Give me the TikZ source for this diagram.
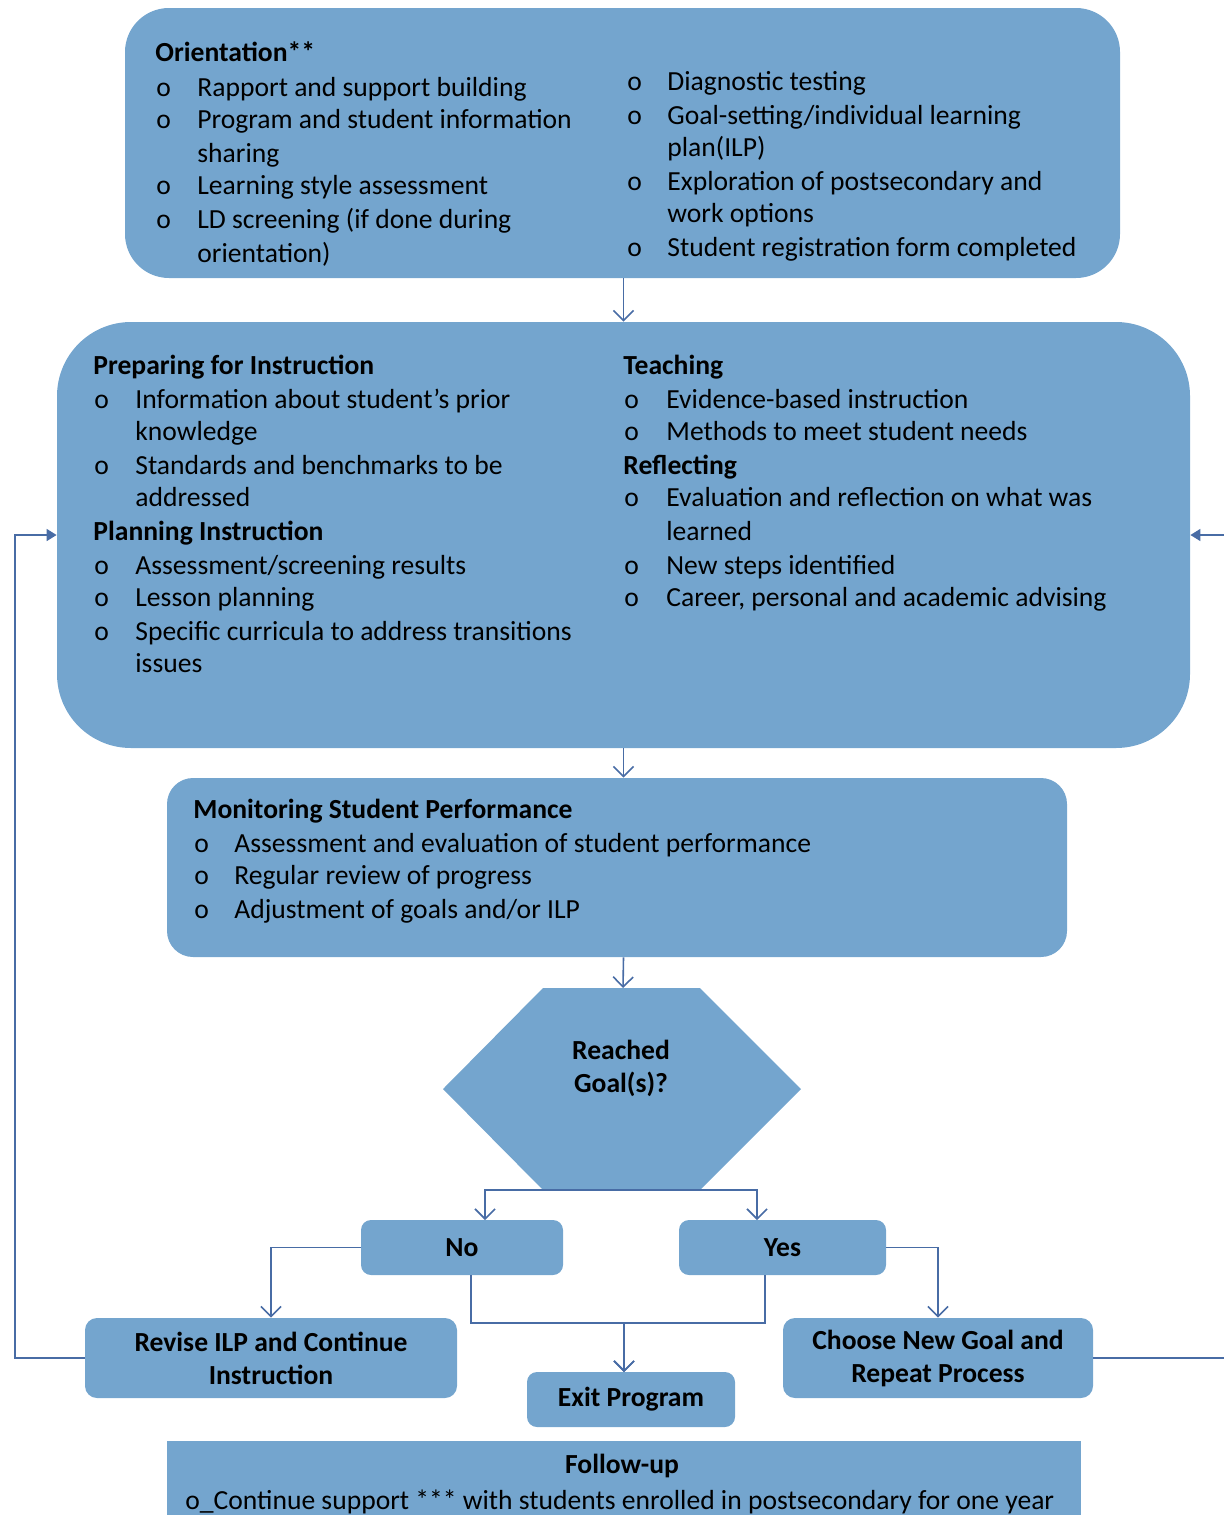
\documentclass[tikz,border=0pt]{standalone}
\usepackage{fontspec}
\setmainfont{Carlito}
\usetikzlibrary{positioning,arrows.meta,calc,fit}
\definecolor{boxblue}{RGB}{116,165,206}
\definecolor{linkblue}{RGB}{72,108,165}

\tikzset{
  box/.style={fill=boxblue, inner sep=0pt},
  txt/.style={anchor=west, inner sep=0pt, text height=0.75em, text depth=0.15em},
  head/.style={txt, font=\bfseries},
  link/.style={draw=linkblue, line width=0.8pt, -{Straight Barb[length=5pt,width=10pt]}},
  back/.style={draw=linkblue, line width=0.8pt, -{Triangle[length=5pt,width=6pt]}},
}

\begin{document}
\fontsize{13.8}{16.5}\selectfont
\begin{tikzpicture}[x=0.5pt,y=-0.5pt]
  \useasboundingbox (0,0) rectangle (1224,1515);
  \clip (0,0) rectangle (1224,1515);

  % orientation
  \node[box, rounded corners=22pt, fit={(125,8) (1120,278)}] (orient) {};
  \node[head] (orhead) at (155,53) {Orientation**};
  \foreach \y in {88,120,186,220} \node[txt] (ob\y) at (156,\y) {o};
  \foreach \y/\t in {88/{Rapport and support building},120/{Program and student information},
      154/sharing,186/{Learning style assessment},220/{LD screening (if done during},254/{orientation)}}
    \node[txt] (ot\y) at (197,\y) {\t};
  \foreach \y in {82,116,182,248} \node[txt] (rb\y) at (627,\y) {o};
  \foreach \y/\t in {82/{Diagnostic testing},116/{Goal-setting/individual learning},148/{plan(ILP)},
      182/{Exploration of postsecondary and},214/{work options},248/{Student registration form completed}}
    \node[txt] (rt\y) at (667,\y) {\t};

  % instruction cycle
  \node[box, rounded corners=37pt, fit={(57,322) (1190,748)}] (cycle) {};
  \node[head] (prephead) at (93,366) {Preparing for Instruction};
  \node[head] (planhead) at (93,532) {Planning Instruction};
  \foreach \y in {400,466,566,598,632} \node[txt] (pb\y) at (94,\y) {o};
  \foreach \y/\t in {400/{Information about student’s prior},432/knowledge,466/{Standards and benchmarks to be},
      498/addressed,566/{Assessment/screening results},598/{Lesson planning},
      632/{Specific curricula to address transitions},664/issues}
    \node[txt] (pt\y) at (135,\y) {\t};
  \node[head] (teachhead) at (623,366) {Teaching};
  \node[head] (reflhead) at (623,466) {Reflecting};
  \foreach \y in {400,432,498,566,598} \node[txt] (tb\y) at (624,\y) {o};
  \foreach \y/\t in {400/{Evidence-based instruction},432/{Methods to meet student needs},
      498/{Evaluation and reflection on what was},532/learned,566/{New steps identified},
      598/{Career, personal and academic advising}}
    \node[txt] (tt\y) at (666,\y) {\t};

  % monitoring
  \node[box, rounded corners=13pt, fit={(167,778) (1067,957)}] (monitor) {};
  \node[head] (monhead) at (193,810) {Monitoring Student Performance};
  \foreach \y/\t in {844/{Assessment and evaluation of student performance},876/{Regular review of progress},
      910/{Adjustment of goals and/or ILP}}
  {
    \node[txt] (mb\y) at (194,\y) {o};
    \node[txt] (mt\y) at (234,\y) {\t};
  }

  % decision
  \path[box] (543,988) -- (700,988) -- (801,1089) -- (700,1190) -- (543,1190) -- (443,1089) -- cycle;
  \node[font=\bfseries, align=center] (goal) at (621,1068) {Reached\\Goal(s)?};
  \coordinate (goaltop) at (623,988);
  \coordinate (goalbot) at (621,1190);

  \node[box, rounded corners=5pt, fit={(361,1220) (563,1275)}] (no) {};
  \node[font=\bfseries] at (no) {No};
  \node[box, rounded corners=5pt, fit={(679,1220) (886,1275)}] (yes) {};
  \node[font=\bfseries] at (yes) {Yes};

  \node[box, rounded corners=6pt, fit={(85,1318) (457,1398)}] (revise) {};
  \node[font=\bfseries, align=center] at (revise) {Revise ILP and Continue\\Instruction};
  \node[box, rounded corners=6pt, fit={(783,1318) (1093,1398)}] (choose) {};
  \node[font=\bfseries, align=center] at (choose) {Choose New Goal and\\Repeat Process};
  \node[box, rounded corners=5pt, fit={(527,1372) (735,1427)}] (exit) {};
  \node[font=\bfseries] at (exit) {Exit Program};

  % follow-up
  \node[box, fit={(167,1441) (1081,1530)}] (follow) {};
  \node[font=\bfseries] (fuhead) at (622,1466) {Follow-up};
  \node[txt] (futext) at (185,1501) {o\_Continue support *** with students enrolled in postsecondary for one year};

  % connectors
  \coordinate (noin) at (485,1220);
  \coordinate (yesin) at (757,1220);
  \coordinate (nofoot) at (471,1275);
  \coordinate (yesfoot) at (765,1275);
  \coordinate (exitin) at (624,1372);
  \draw[link] (orient.south -| cycle.north) -- (cycle.north);
  \draw[link] (cycle.south) -- (cycle.south |- monitor.north);
  \draw[link] (cycle.south |- monitor.south) -- (goaltop);
  \draw[link] (goalbot) -| (noin);
  \draw[link] (goalbot) -| (yesin);
  \draw[link] (no.west) -| (revise.north);
  \draw[link] (yes.east) -| (choose.north);
  \draw[link] (nofoot) |- (624,1323) -- (exitin);
  \draw[link] (yesfoot) |- (624,1323) -- (exitin);
  \draw[back] (revise.west) -- (15,1358) |- (cycle.west);
  \draw[back] (choose.east) -- (1240,1358) |- (cycle.east);
\end{tikzpicture}
\end{document}
